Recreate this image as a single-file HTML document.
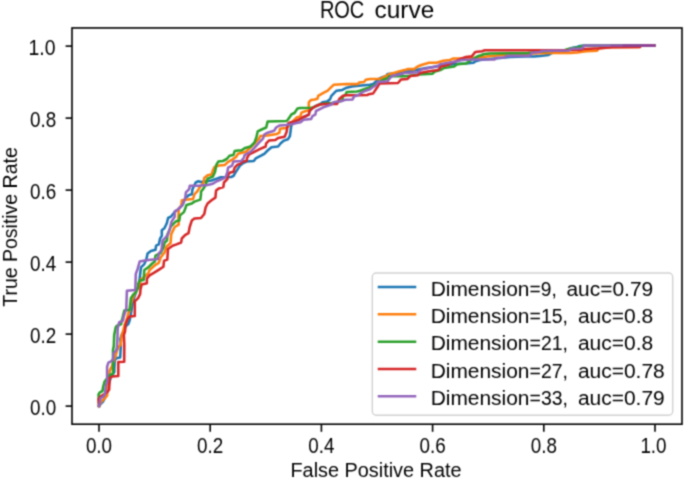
<!DOCTYPE html>
<html><head><meta charset="utf-8"><title>ROC curve</title>
<style>
html,body{margin:0;padding:0;background:#fff;}
body{width:685px;height:480px;overflow:hidden;}
svg{display:block;}
text{font-family:"Liberation Sans",sans-serif;fill:#000;}
</style></head><body>
<svg width="685" height="480" viewBox="0 0 685 480">
<defs><filter id="soft" x="0" y="0" width="685" height="480" filterUnits="userSpaceOnUse" color-interpolation-filters="sRGB"><feConvolveMatrix order="3" kernelMatrix="0.0400 0.1200 0.0400 0.1200 0.3600 0.1200 0.0400 0.1200 0.0400" divisor="1" edgeMode="duplicate" preserveAlpha="true"/></filter></defs>
<rect x="0" y="0" width="685" height="480" fill="#ffffff"/>
<g filter="url(#soft)">
<rect x="-5" y="-5" width="695" height="490" fill="#ffffff"/>
<g fill="none" stroke-width="2.55" stroke-linejoin="round" stroke-linecap="square">
<polyline stroke="#1f77b4" points="99,406 101,403.5 103.1,401.5 105,398 106.5,394 108,388 109.5,382 111,377 114.3,372 114.3,369.3 114.8,360 116.9,358.1 120.2,357.5 120.9,345 120.4,339 122,334 124,330 126,326 128.3,324 129.6,320.5 130.5,316 131.5,310 132.5,304 134,298 136,292 138,287 139,285 139.7,278 141,267.4 144.3,264.1 146.3,259.5 147.6,253.6 150.9,251 155.5,249.7 156.1,245.7 158.8,244.4 160.1,238.5 161.8,235.9 161.8,230.2 164.4,228.2 166.8,223.2 168.1,218 170.8,216.7 174.7,212 178,209.5 182.6,204.9 185.2,198.3 189,195 191.8,194.3 192.5,189.1 195.7,182.5 198.4,181.2 201,181.9 211.5,180.5 216.8,178.6 220.7,177.3 231.2,177 233.6,175.9 234.9,173.4 240,165.6 243.3,163 246.5,161.6 253.8,161 255.7,158.4 261,155.7 264.3,153.8 267.6,150.5 271.5,147.2 278.1,146.5 280.7,143.3 284,140.6 287.9,139.3 289.9,136 290.6,130.8 291.2,126 292.5,122.5 294,121.6 299.5,119.5 302.5,117.5 306,116 308.8,114.7 309.5,111 312.4,108.2 314.6,106.7 319.7,104.5 322.6,102.3 327,101.6 330,99.4 331.4,95.8 334.3,92.8 336.5,90.7 342.3,89.9 346.7,87.7 352,86.5 361.3,85.5 370,84.8 373,84.1 378.8,79 381.8,77.5 386.1,76 387.6,73.9 393.4,73.4 396.4,73.1 400,72.5 406,71.8 416,70 426,68 437,66.5 448,64.8 456,64 465.9,63.6 473.2,62.8 475.4,61.4 480,60 490,59 500,58 510,57 525,56.5 534,56.4 540,56 548.6,54.9 552,53 560,51.5 568,50 572,48 577,46.9 580,46 584,45.4 654.2,45.4"/>
<polyline stroke="#ff7f0e" points="99,406 101,402 104,399 107.1,395.6 108,385 109,378 109.7,370.6 112,366 114,360 115.6,356.2 116.9,350.9 118.5,347 120.5,345 121.3,340 121.6,336 123.2,331 124.6,325 126.6,320 128.3,313.3 129.6,311 130.5,305 132,300 134.5,294 137,289.5 139,287 141,279.2 143,278 148.3,273.3 149.6,270 155.5,264.8 158.8,262.8 160.7,257.6 164.7,252.3 166.6,246.4 170.6,243.1 171.2,234.6 172.7,231.1 174.7,227 178.7,224.6 178.4,218 178.7,208.8 181.3,205.5 181.9,200.3 187.9,199.6 193.1,198.9 194.4,194.3 197,191.7 200,187 203.6,182.5 204.3,177.9 207.6,175.3 211.5,174.6 213,170 214.5,167 218.9,165.6 224.9,164.9 227.5,162.3 232.1,159.7 234,158.4 236,157 238,153.8 245.9,151.8 250,148 255,143 259,138.7 260.3,136 267.6,135.4 276.8,134 279.4,132.7 280,128.8 286,128.1 287.9,126.8 292.5,121.6 296.5,117.6 300.4,116.5 301.5,112.6 305.8,111 308.8,110.4 308.8,102.3 311,100 314.6,99.4 317.5,98.7 318.2,95.8 323.4,92.8 327.7,90.7 330.7,87.7 333.6,84.8 346.7,84.1 357.7,84.1 359.1,82.6 364.2,81.9 365.7,79.7 370,79 378.8,79 381.8,78.2 386,76 390,74 395.6,72.4 398.8,71.6 404.6,70.1 407.5,69.1 414.1,69.1 417.7,66.5 421.4,65 426.5,63.6 428.7,62.8 436.7,62.8 443.3,60.7 449.9,59.9 453.5,58.5 458.6,58.5 465,58 475,57.7 480,57.6 486.6,56.4 494.6,55.7 501.9,54.9 534,53.5 548.6,53 570,53 577.3,52.5 586,51.3 597,50.8 599,48.3 612,47.3 640,46.9 641.5,45.4 654.2,45.4"/>
<polyline stroke="#2ca02c" points="99,406 98.5,394.5 99.9,392.3 102.5,391 103.1,387 104.5,381.8 106.4,379.2 109.7,375.2 113,373.3 113,350 113.8,346 114.2,335 115.8,327 117,325.7 121,324.4 122.5,318 124.3,310.5 129.6,310 130.9,298.1 133.5,294.2 135.5,292.9 138.1,287.6 138.4,283.2 139.7,280.6 143.7,279.9 144.3,270 148.3,267.4 152.2,263.5 154.8,261.5 155.5,255.6 160.7,253 163.4,247.7 164.7,242.5 167,240.5 167.5,234.2 169.5,230 170.8,226.5 174.1,223.2 176,221.3 179.3,220.6 180,215.4 183.9,212.1 185.2,208.8 186.5,204.9 191.8,203.5 194.4,201.6 200.3,199.6 201,194.3 201,191.7 203.6,188.4 205.6,185.1 207.6,178.6 212.8,176.6 215,172 216.3,164.9 218.3,161.6 222.9,161 226.8,159 229.5,155.7 233.4,155.1 234.7,151.1 238,150.5 241.3,150.5 245.2,147.9 250.5,146.5 254.4,142.6 256.4,137.3 257.7,131.4 261.6,129.5 266.2,127.5 267.6,121.6 286.6,121 288,119.5 291.6,114.2 294.5,113 297.5,108.4 300,108 310.9,107.8 313,107.6 315,106.5 319.7,104.5 324.8,103.6 327,103.3 331,103.3 335.4,102.5 340,101.2 342.3,100.3 342.9,96.5 345.3,95 346.7,92.1 357,91.4 359.9,90.7 364.2,89.2 368.6,87.7 373,86 377,84 380,81.5 383.2,79.7 387.6,78.2 389,76.3 400,76.3 406,76.3 412,75.5 419.2,74.5 432.3,73.8 435,71.5 440.4,70.1 444,68 454.2,66.5 457.2,64.3 465.9,63.6 469,61.5 473,59 477.6,56.3 481,55.3 484.5,54 490,53.4 526.7,53.3 529.6,52.7 540,51.5 555,50.8 565,50 570,48.6 578,47.5 583,46 585,45.4 654.2,45.4"/>
<polyline stroke="#d62728" points="99,406 98.6,399 100.5,396.5 103.1,394.9 107.1,392.3 109.1,389.7 109.7,377.9 112.3,376.5 118.3,375.9 118.3,362.1 124.2,361.8 124.3,345 123.9,334.9 125,331.6 125.6,324.4 127.6,319.2 129.6,316.5 134.8,315.9 134.8,301.4 138.1,298.1 140.1,294.2 140.5,289.5 141.7,284.5 146.9,283.2 146.9,278.6 149.6,275.3 154.2,272.7 159.4,269.4 163.4,266.8 164,260.9 167.3,259.5 168,249 172.6,245.7 176.5,244.4 181.1,242.5 181.8,238.5 185,235.2 188.5,233.2 189.7,227 191.8,220.6 194.4,218.6 201,218 204.3,214 205.6,207.5 207.6,203.5 211.5,200.3 215.4,197.6 216.1,190.4 218.7,188.4 223.3,187.1 224,182.5 227.3,179.2 228.4,174.5 229.5,172.8 233.4,171.8 234.7,167.6 237.3,164.9 240.6,163.6 242.6,161.6 246.5,161 247.2,157.7 249.2,154.4 254.4,151.8 259.7,149.2 265.6,146.5 266.2,143.3 268.9,140.6 275.4,140 278.1,138 284.6,136.7 286.6,132.1 287.3,126.8 288.6,122.9 293.8,121.6 299.5,119.5 302.5,117.5 306,116 308.8,114.7 309.5,111 312.4,108.2 314.6,106.7 319.7,104.5 324.8,104 337,104 337.5,103 339.4,98.7 343,95.8 346.7,95.2 358.4,95.2 367.2,95 368.6,94.3 373,93.6 374.5,91.4 377.4,87 379.6,83.4 389,83.2 398,83 400.9,79.6 407.5,78.9 410.4,76 417.7,75.3 419.9,73.1 428,71.6 438.2,70.1 441.1,66.5 447.7,65 451.3,62.8 455.7,61.4 460.1,59.2 465.9,57 471.8,56.3 475.4,51.9 482,51.2 484.9,50.2 490,50.2 540,50.2 580,50 584.6,48.9 600,48.2 612,47.3 640,46.9 641.5,45.4 654.2,45.4"/>
<polyline stroke="#9467bd" points="99,406 99.9,402.8 100.5,398.2 103.1,396.9 105.1,393.6 105.8,385.7 107.1,381.8 107.1,366.7 108.4,362.7 111,361.4 113,359.5 113.7,352.9 116.3,350.3 117,347 117.4,340 117.7,328.4 119.1,322.5 123,320.5 123.7,316.5 126.3,308.7 126.9,290.7 135.3,290 135.8,274 137.7,268.7 139.7,261.5 146.3,260.2 158.1,258.9 158.8,253.6 161.4,250.3 162.7,240.5 165.3,237.9 168,234.5 170.1,227.8 171.4,221.9 174.7,216.7 174.7,211.4 178,209.5 182.6,204.9 185.2,198.3 185.9,192.4 189.2,189.1 189.8,185.8 198.4,185.8 207.6,185.1 212.8,183.8 216.8,181.2 223.3,178.6 226,176.5 227.3,172.4 228.1,167.6 232.1,165.6 233.4,161.6 241.3,161 243.9,157.7 244.6,155.1 250.5,151.8 254.4,147.9 259,142.6 263,138.7 264.3,134.7 267.6,132.7 274.1,130.8 276.1,127.5 279.4,125.5 286,124.9 291.9,124.2 296.5,123 300.5,122.2 303.5,119.8 311,119.1 312.4,116.2 315.3,114.7 316,111 320.4,108.9 324.8,106.7 331.4,104.5 333.6,102.3 338,101.6 342.3,100.9 345.3,99.7 352.6,99.4 354,96.5 358.4,95 361.3,92.8 365.7,90.7 370,89.2 373,87 376.6,84.8 378.1,81.9 387.6,81.2 389.5,78.5 392,76 398.8,74.7 404.6,73.1 417.7,72.3 421.4,69.4 432.3,67.2 438.2,65.8 440.4,64.3 448.4,62.8 455.7,61.4 461.5,59.9 471.8,59.4 480.5,59.4 494.6,59.4 496.8,57.8 504.8,57.4 506.3,55.9 529.6,55.7 531.8,52.7 539.9,52 542,51 569,50.5 571.2,48.8 582,48.4 584.3,45.4 654.2,45.4"/>
<line x1="612" y1="45.4" x2="654.2" y2="45.4" stroke="#8c3f90" stroke-opacity="0.45"/>
<line x1="624" y1="45.4" x2="654.2" y2="45.4" stroke="#8c3f90" stroke-opacity="0.8"/>
</g>
<rect x="72.00" y="27.95" width="610.00" height="396.25" fill="none" stroke="#000" stroke-width="1.60"/>
<g stroke="#000" stroke-width="1.60">
<line x1="99.00" y1="424.20" x2="99.00" y2="431.80"/>
<line x1="65.60" y1="406.10" x2="72.00" y2="406.10"/>
<line x1="210.20" y1="424.20" x2="210.20" y2="431.80"/>
<line x1="65.60" y1="334.10" x2="72.00" y2="334.10"/>
<line x1="321.40" y1="424.20" x2="321.40" y2="431.80"/>
<line x1="65.60" y1="262.10" x2="72.00" y2="262.10"/>
<line x1="432.60" y1="424.20" x2="432.60" y2="431.80"/>
<line x1="65.60" y1="190.10" x2="72.00" y2="190.10"/>
<line x1="543.80" y1="424.20" x2="543.80" y2="431.80"/>
<line x1="65.60" y1="118.10" x2="72.00" y2="118.10"/>
<line x1="655.00" y1="424.20" x2="655.00" y2="431.80"/>
<line x1="65.60" y1="46.10" x2="72.00" y2="46.10"/>
</g>
<g font-size="21.4">
<text x="99.00" y="453.0" text-anchor="middle" textLength="26.2" lengthAdjust="spacingAndGlyphs">0.0</text>
<text x="56.30" y="414.70" text-anchor="end" textLength="26.2" lengthAdjust="spacingAndGlyphs">0.0</text>
<text x="210.20" y="453.0" text-anchor="middle" textLength="26.2" lengthAdjust="spacingAndGlyphs">0.2</text>
<text x="56.30" y="342.70" text-anchor="end" textLength="26.2" lengthAdjust="spacingAndGlyphs">0.2</text>
<text x="321.40" y="453.0" text-anchor="middle" textLength="26.2" lengthAdjust="spacingAndGlyphs">0.4</text>
<text x="56.30" y="270.70" text-anchor="end" textLength="26.2" lengthAdjust="spacingAndGlyphs">0.4</text>
<text x="432.60" y="453.0" text-anchor="middle" textLength="26.2" lengthAdjust="spacingAndGlyphs">0.6</text>
<text x="56.30" y="198.70" text-anchor="end" textLength="26.2" lengthAdjust="spacingAndGlyphs">0.6</text>
<text x="543.80" y="453.0" text-anchor="middle" textLength="26.2" lengthAdjust="spacingAndGlyphs">0.8</text>
<text x="56.30" y="126.70" text-anchor="end" textLength="26.2" lengthAdjust="spacingAndGlyphs">0.8</text>
<text x="653.50" y="453.0" text-anchor="middle" textLength="26.2" lengthAdjust="spacingAndGlyphs">1.0</text>
<text x="55.55" y="54.70" text-anchor="end" textLength="27.0" lengthAdjust="spacingAndGlyphs">1.0</text>
</g>
<text x="319.9" y="17.5" font-size="23.4" textLength="44.4" lengthAdjust="spacingAndGlyphs">ROC</text>
<text x="374.6" y="17.5" font-size="23.4" textLength="59.6" lengthAdjust="spacingAndGlyphs">curve</text>
<text x="376" y="477.3" font-size="19.6" text-anchor="middle" textLength="171" lengthAdjust="spacingAndGlyphs">False Positive Rate</text>
<text transform="translate(17.4,227) rotate(-90)" font-size="19.6" text-anchor="middle" textLength="159.5" lengthAdjust="spacingAndGlyphs">True Positive Rate</text>
<rect x="372.3" y="273" width="300.4" height="142.2" rx="4" ry="4" fill="#ffffff" fill-opacity="0.8" stroke="#d2d2d2" stroke-width="1.4"/>
<line x1="379" y1="287.00" x2="415" y2="287.00" stroke="#1f77b4" stroke-width="2.55" stroke-linecap="square"/>
<text x="430.7" y="295.70" font-size="19.6" textLength="98.8" lengthAdjust="spacingAndGlyphs">Dimension</text>
<text x="529.6" y="295.70" font-size="19.6" textLength="27.2" lengthAdjust="spacingAndGlyphs">=9,</text>
<text x="566.4" y="295.70" font-size="19.6" textLength="86.8" lengthAdjust="spacingAndGlyphs">auc=0.79</text>
<line x1="379" y1="314.33" x2="415" y2="314.33" stroke="#ff7f0e" stroke-width="2.55" stroke-linecap="square"/>
<text x="430.7" y="323.03" font-size="19.6" textLength="98.8" lengthAdjust="spacingAndGlyphs">Dimension</text>
<text x="529.6" y="323.03" font-size="19.6" textLength="38.4" lengthAdjust="spacingAndGlyphs">=15,</text>
<text x="577.9" y="323.03" font-size="19.6" textLength="75.3" lengthAdjust="spacingAndGlyphs">auc=0.8</text>
<line x1="379" y1="341.66" x2="415" y2="341.66" stroke="#2ca02c" stroke-width="2.55" stroke-linecap="square"/>
<text x="430.7" y="350.36" font-size="19.6" textLength="98.8" lengthAdjust="spacingAndGlyphs">Dimension</text>
<text x="529.6" y="350.36" font-size="19.6" textLength="38.4" lengthAdjust="spacingAndGlyphs">=21,</text>
<text x="577.9" y="350.36" font-size="19.6" textLength="75.3" lengthAdjust="spacingAndGlyphs">auc=0.8</text>
<line x1="379" y1="368.99" x2="415" y2="368.99" stroke="#d62728" stroke-width="2.55" stroke-linecap="square"/>
<text x="430.7" y="377.69" font-size="19.6" textLength="98.8" lengthAdjust="spacingAndGlyphs">Dimension</text>
<text x="529.6" y="377.69" font-size="19.6" textLength="38.4" lengthAdjust="spacingAndGlyphs">=27,</text>
<text x="577.9" y="377.69" font-size="19.6" textLength="86.8" lengthAdjust="spacingAndGlyphs">auc=0.78</text>
<line x1="379" y1="396.32" x2="415" y2="396.32" stroke="#9467bd" stroke-width="2.55" stroke-linecap="square"/>
<text x="430.7" y="405.02" font-size="19.6" textLength="98.8" lengthAdjust="spacingAndGlyphs">Dimension</text>
<text x="529.6" y="405.02" font-size="19.6" textLength="38.4" lengthAdjust="spacingAndGlyphs">=33,</text>
<text x="577.9" y="405.02" font-size="19.6" textLength="86.8" lengthAdjust="spacingAndGlyphs">auc=0.79</text>
</g>
</svg>
</body></html>
